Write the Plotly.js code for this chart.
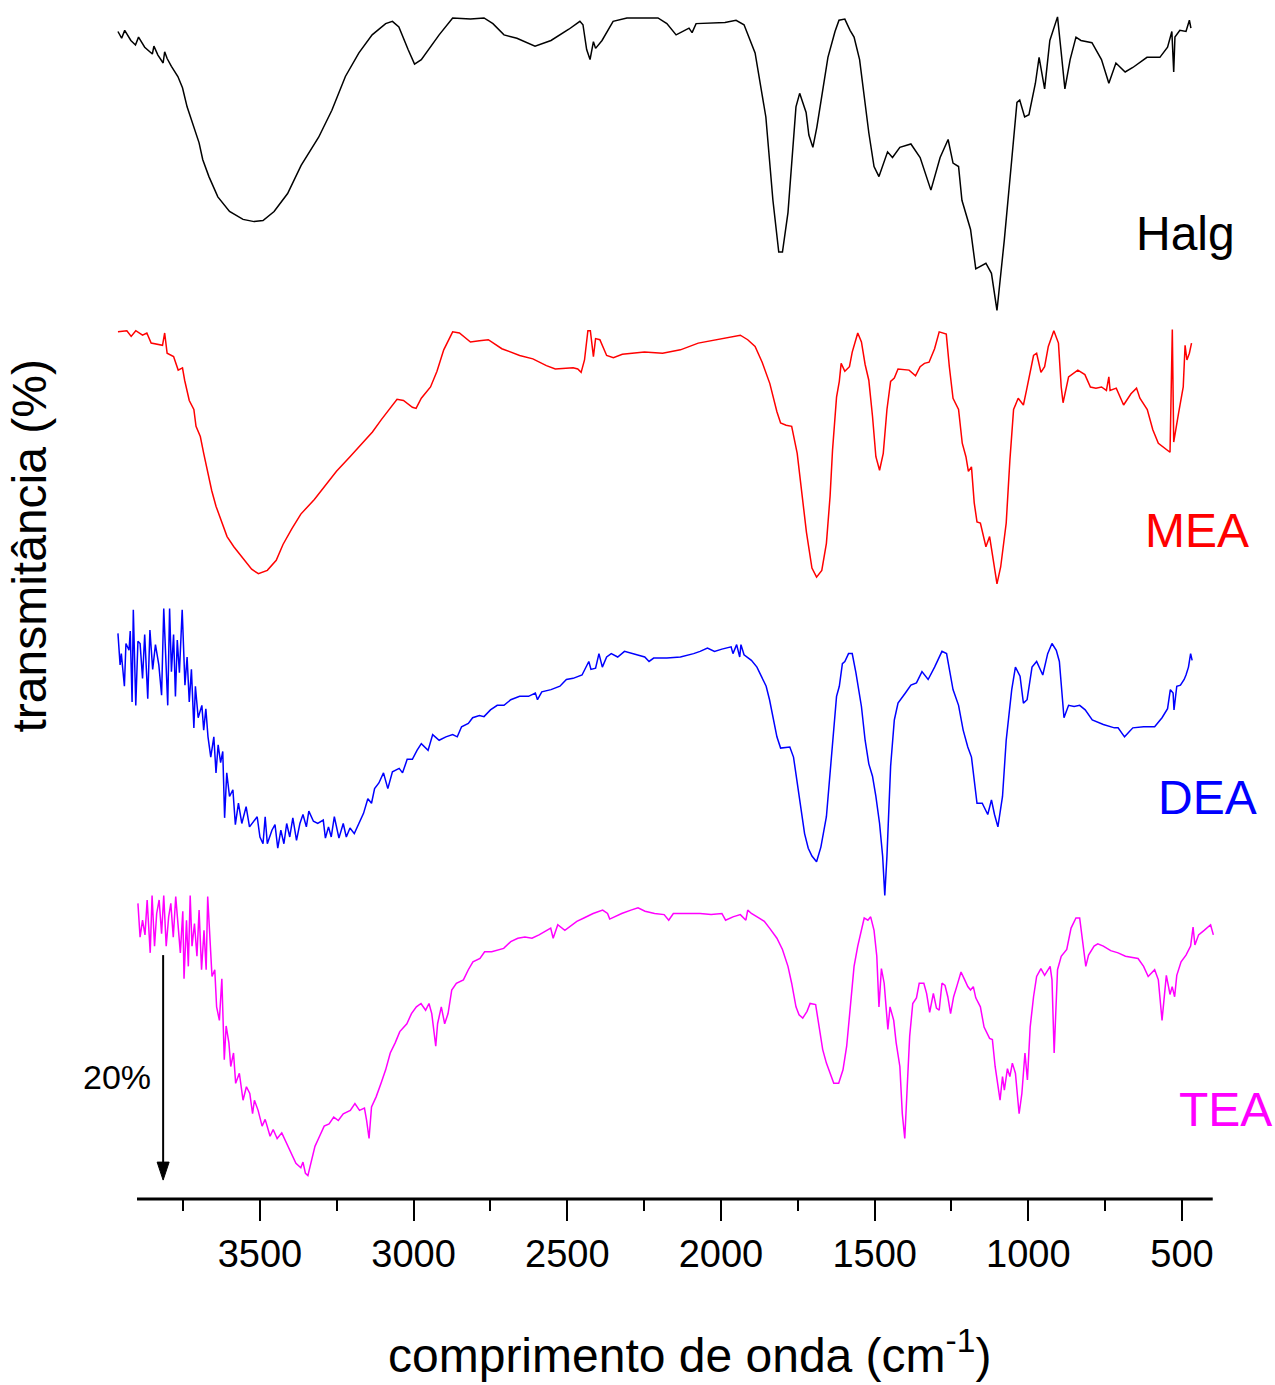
<!DOCTYPE html>
<html>
<head>
<meta charset="utf-8">
<script src="https://cdn.plot.ly/plotly-3.0.1.min.js"></script>
<style>html,body{margin:0;padding:0;background:#fff;}#chart{width:1275px;height:1385px;}</style>
</head>
<body>
<div id="chart"></div>
<script>
// ---- data: [wavenumber (cm-1), transmittance (%, stacked display value)] ----
const halg = [[3962,103.6],[3950,103.0],[3940,103.7],[3920,102.8],[3905,102.4],[3895,103.1],[3875,102.2],[3850,101.6],[3845,102.3],[3832,101.5],[3815,100.8],[3810,101.8],[3802,101.2],[3788,100.5],[3767,99.6],[3752,98.6],[3737,96.9],[3715,95.1],[3698,93.7],[3686,92.2],[3666,90.7],[3637,88.9],[3599,87.6],[3555,86.9],[3519,86.7],[3490,86.8],[3454,87.6],[3410,89.2],[3366,91.7],[3309,94.2],[3266,96.6],[3222,99.6],[3178,101.7],[3135,103.3],[3091,104.3],[3069,104.5],[3048,104.0],[3018,102.0],[2997,100.7],[2975,101.1],[2917,103.3],[2873,104.8],[2815,104.7],[2771,104.8],[2742,104.3],[2706,103.3],[2664,103.0],[2605,102.3],[2553,102.8],[2495,103.8],[2459,104.5],[2449,104.2],[2437,102.0],[2426,101.1],[2415,102.7],[2408,102.1],[2387,102.8],[2351,104.5],[2306,104.8],[2205,104.8],[2176,104.3],[2146,103.3],[2104,103.9],[2094,103.5],[2081,104.3],[1987,104.4],[1951,104.6],[1925,104.2],[1889,101.7],[1854,96.0],[1831,88.6],[1812,84.0],[1800,84.0],[1782,87.5],[1756,96.9],[1744,98.1],[1723,96.4],[1714,94.4],[1701,93.3],[1688,95.1],[1652,101.3],[1629,103.6],[1616,104.6],[1597,104.7],[1580,103.7],[1567,103.1],[1549,101.1],[1519,94.6],[1502,91.6],[1486,90.7],[1458,92.9],[1442,92.4],[1418,93.3],[1382,93.6],[1352,92.4],[1317,89.5],[1287,92.4],[1261,94.0],[1245,91.9],[1227,91.6],[1216,88.6],[1188,86.0],[1171,82.5],[1138,83.0],[1120,82.1],[1102,78.8],[1078,85.1],[1054,92.2],[1037,97.3],[1028,97.5],[1012,96.0],[998,96.2],[977,99.0],[965,101.3],[947,98.5],[930,102.8],[905,104.9],[894,102.0],[881,98.5],[864,101.1],[845,103.1],[829,102.8],[793,102.6],[762,101.1],[738,99.0],[715,100.8],[685,100.0],[660,100.4],[614,101.3],[572,101.3],[547,102.2],[533,103.6],[527,100.0],[523,103.1],[507,103.7],[487,103.6],[476,104.6],[471,103.9]];

const mea = [[3962,76.9],[3933,77.0],[3919,76.5],[3904,77.0],[3882,76.6],[3868,76.8],[3854,75.9],[3817,75.7],[3810,76.8],[3802,75.0],[3781,74.7],[3766,73.5],[3752,73.7],[3745,72.6],[3730,70.8],[3715,70.0],[3708,68.5],[3694,67.6],[3683,66.1],[3672,64.6],[3657,62.8],[3643,61.4],[3628,60.2],[3607,58.7],[3585,57.8],[3555,56.8],[3527,55.8],[3505,55.4],[3476,55.7],[3447,56.6],[3425,58.0],[3396,59.4],[3367,60.7],[3323,62.0],[3294,63.0],[3251,64.5],[3207,65.8],[3163,67.1],[3134,68.0],[3105,69.1],[3076,70.1],[3054,70.9],[3033,70.8],[3004,70.2],[2992,70.1],[2975,71.0],[2945,72.0],[2924,73.4],[2902,75.3],[2873,76.9],[2851,76.8],[2815,76.0],[2786,76.1],[2757,76.2],[2713,75.4],[2655,74.8],[2612,74.5],[2568,73.9],[2539,73.6],[2481,73.7],[2466,73.6],[2455,73.3],[2444,74.4],[2433,77.0],[2425,77.0],[2415,74.7],[2408,76.3],[2394,76.2],[2372,74.8],[2350,74.6],[2321,74.9],[2249,75.1],[2190,75.0],[2132,75.3],[2074,75.9],[1997,76.3],[1937,76.6],[1913,76.2],[1889,75.6],[1866,74.2],[1841,72.3],[1818,69.8],[1806,68.8],[1788,68.6],[1770,68.5],[1752,66.1],[1734,61.7],[1722,59.1],[1704,55.9],[1689,55.1],[1672,55.7],[1657,58.1],[1645,62.3],[1637,66.4],[1624,71.1],[1615,72.5],[1609,74.1],[1597,73.4],[1582,73.8],[1573,75.1],[1555,76.8],[1543,76.0],[1531,74.0],[1519,72.6],[1507,69.4],[1496,65.8],[1484,64.6],[1472,66.1],[1460,70.0],[1448,72.5],[1436,72.8],[1424,73.6],[1388,73.5],[1367,73.0],[1352,73.8],[1338,74.1],[1323,74.2],[1305,75.4],[1290,76.9],[1267,76.7],[1257,73.8],[1245,71.0],[1227,70.0],[1215,67.0],[1203,65.8],[1195,64.5],[1185,64.9],[1176,61.7],[1167,60.0],[1156,59.9],[1138,57.8],[1126,58.7],[1114,56.6],[1102,54.5],[1090,56.0],[1072,59.9],[1060,65.5],[1048,70.0],[1033,71.0],[1016,70.4],[1006,71.7],[997,72.9],[983,74.8],[973,75.0],[959,73.3],[947,73.8],[935,75.6],[917,77.0],[902,75.9],[893,72.0],[887,70.6],[869,72.9],[839,73.5],[816,73.1],[798,72.0],[780,71.9],[762,72.0],[746,71.7],[738,72.9],[734,71.7],[714,71.9],[690,70.4],[666,71.4],[648,71.9],[637,71.0],[613,70.0],[595,68.2],[577,67.0],[559,66.6],[539,66.2],[531.5,77.1],[527,67.1],[511,69.7],[496,72.0],[490,75.7],[484,74.4],[476,75.0],[469,75.9]];

const dea = [[3962,50.1],[3955,47.3],[3951,48.3],[3941,45.4],[3936,49.2],[3926,48.6],[3922,50.3],[3916,44.0],[3912,52.2],[3904,43.7],[3897,49.4],[3890,49.2],[3882,46.1],[3875,50.0],[3865,44.3],[3858,50.4],[3849,46.9],[3840,49.1],[3829,47.3],[3820,44.6],[3813,52.3],[3800,43.7],[3794,52.3],[3788,46.7],[3781,50.0],[3775,44.5],[3769,49.5],[3762,46.6],[3753,52.2],[3744,45.5],[3737,48.0],[3730,44.0],[3723,46.9],[3715,41.7],[3710,45.4],[3701,42.6],[3689,43.7],[3683,41.5],[3676,43.4],[3669,40.9],[3660,39.1],[3650,40.9],[3643,37.7],[3636,40.2],[3628,38.6],[3621,39.6],[3615,33.7],[3608,37.7],[3599,35.6],[3588,36.2],[3580,33.1],[3570,35.0],[3559,33.2],[3545,34.7],[3534,32.9],[3519,33.5],[3509,33.8],[3500,32.0],[3490,31.4],[3483,33.8],[3476,31.4],[3461,32.6],[3451,33.1],[3442,31.0],[3432,32.6],[3422,31.4],[3413,33.2],[3403,32.0],[3393,33.7],[3381,31.7],[3370,33.2],[3360,34.0],[3349,32.9],[3341,34.3],[3326,33.4],[3312,33.2],[3294,33.5],[3287,31.9],[3277,32.9],[3268,32.0],[3258,33.8],[3243,31.9],[3229,33.2],[3219,32.0],[3207,32.8],[3193,32.3],[3178,33.2],[3163,34.1],[3149,35.4],[3137,35.0],[3127,36.3],[3113,36.8],[3098,37.7],[3084,36.3],[3069,37.8],[3047,38.1],[3036,37.7],[3021,38.9],[3004,38.9],[2989,39.7],[2975,40.3],[2953,39.7],[2938,41.1],[2917,40.6],[2895,40.9],[2873,41.1],[2858,40.9],[2844,41.8],[2822,42.1],[2808,42.6],[2786,42.8],[2771,42.7],[2750,43.3],[2728,43.7],[2706,43.7],[2684,44.2],[2655,44.5],[2626,44.5],[2604,44.8],[2597,44.2],[2583,44.9],[2553,45.1],[2524,45.4],[2503,46.0],[2481,46.1],[2452,46.4],[2430,47.6],[2423,46.9],[2408,47.0],[2397,48.3],[2386,47.1],[2372,48.0],[2357,48.3],[2336,48.0],[2314,48.5],[2277,48.2],[2248,48.0],[2234,47.6],[2219,47.9],[2176,47.9],[2132,48.0],[2089,48.3],[2068,48.5],[2044,48.8],[2021,48.5],[1997,48.7],[1967,48.9],[1961,48.3],[1949,49.1],[1939,48.0],[1935,49.1],[1925,48.2],[1901,47.7],[1883,47.1],[1865,46.1],[1853,45.4],[1842,44.2],[1830,42.4],[1818,40.9],[1806,39.9],[1776,40.0],[1764,39.1],[1752,36.8],[1740,34.7],[1728,32.3],[1716,31.0],[1704,30.3],[1689,29.8],[1675,31.1],[1657,33.8],[1645,38.0],[1633,42.1],[1624,44.5],[1615,45.4],[1605,47.4],[1597,47.6],[1585,48.3],[1573,48.3],[1561,46.6],[1543,43.6],[1531,40.6],[1519,38.5],[1507,37.4],[1496,35.6],[1484,33.2],[1474,30.3],[1467,26.8],[1460,30.3],[1448,38.3],[1436,42.4],[1424,43.9],[1400,44.8],[1382,45.5],[1364,45.7],[1346,46.7],[1326,46.0],[1305,47.1],[1281,48.5],[1266,48.3],[1245,45.1],[1227,43.7],[1212,41.5],[1197,40.0],[1185,39.1],[1176,36.8],[1167,35.0],[1150,35.0],[1140,34.4],[1132,34.0],[1120,35.3],[1110,34.0],[1099,32.9],[1084,35.6],[1072,40.6],[1054,45.1],[1042,47.1],[1027,46.3],[1016,43.9],[1004,44.2],[988,47.1],[973,47.6],[953,46.4],[937,48.3],[923,49.2],[909,48.6],[899,47.6],[889,44.2],[884,42.6],[869,43.7],[851,43.6],[833,43.7],[815,43.3],[792,42.4],[756,42.0],[720,41.7],[708,41.7],[687,40.9],[660,41.7],[625,41.8],[589,41.8],[565,42.6],[547,43.4],[538,45.1],[529,44.8],[526,43.3],[517,45.4],[505,45.5],[493,46.0],[487,46.4],[479,47.1],[472,48.3],[467,47.7]];

const tea = [[3897,26.1],[3890,23.1],[3882,24.6],[3874,23.3],[3867,26.4],[3862,23.7],[3857,21.7],[3851,26.8],[3843,22.3],[3836,25.2],[3828,26.4],[3820,23.4],[3813,26.8],[3805,22.3],[3797,24.9],[3790,26.1],[3782,23.1],[3774,26.7],[3767,24.0],[3759,21.7],[3751,25.4],[3747,19.4],[3739,24.6],[3733,20.5],[3727,26.8],[3721,22.3],[3713,24.3],[3705,21.4],[3698,25.5],[3690,20.2],[3682,23.7],[3675,20.2],[3670,26.7],[3662,22.0],[3656,19.6],[3647,20.2],[3641,16.9],[3632,15.7],[3624,19.4],[3616,12.2],[3610,15.2],[3601,13.7],[3595,11.6],[3586,12.8],[3579,10.1],[3567,11.0],[3555,8.6],[3544,9.8],[3533,9.2],[3524,7.4],[3518,8.6],[3506,7.7],[3493,6.3],[3483,6.9],[3467,5.4],[3457,6.0],[3444,5.2],[3429,5.7],[3414,4.8],[3398,3.9],[3383,3.0],[3367,2.6],[3360,3.1],[3352,2.1],[3344,1.9],[3337,2.7],[3321,4.5],[3306,5.4],[3291,6.3],[3275,6.5],[3260,7.1],[3245,6.8],[3229,7.4],[3206,7.7],[3191,8.3],[3176,7.7],[3160,7.9],[3153,6.8],[3145,5.2],[3137,8.0],[3122,8.9],[3106,10.1],[3091,11.3],[3076,12.8],[3060,13.7],[3045,14.7],[3022,15.4],[3007,16.3],[2991,16.9],[2976,17.2],[2961,16.6],[2950,17.2],[2941,16.3],[2928,13.4],[2922,15.4],[2910,16.9],[2899,15.4],[2888,16.3],[2876,18.4],[2861,19.0],[2838,19.3],[2822,20.2],[2807,20.9],[2784,21.2],[2769,21.8],[2746,21.8],[2723,22.0],[2707,22.1],[2684,22.7],[2661,23.0],[2638,23.1],[2615,23.0],[2592,23.3],[2569,23.7],[2554,23.9],[2546,23.0],[2531,24.2],[2508,23.7],[2492,24.0],[2469,24.5],[2446,24.8],[2416,25.2],[2385,25.5],[2369,25.2],[2362,24.7],[2346,24.9],[2323,25.2],[2293,25.5],[2270,25.7],[2247,25.4],[2216,25.2],[2185,25.1],[2170,24.6],[2155,25.2],[2108,25.2],[2068,25.2],[2032,25.1],[1997,25.2],[1985,24.6],[1961,24.9],[1937,25.1],[1919,24.6],[1913,25.5],[1901,25.2],[1877,24.8],[1859,24.5],[1842,23.9],[1818,23.0],[1800,22.0],[1782,20.5],[1770,19.0],[1756,16.9],[1746,16.2],[1734,15.9],[1720,16.5],[1710,17.2],[1692,17.1],[1680,15.1],[1669,13.1],[1657,11.9],[1645,11.0],[1633,10.1],[1617,10.1],[1603,11.3],[1591,13.4],[1579,16.9],[1567,20.5],[1555,22.3],[1543,23.7],[1534,24.8],[1522,24.6],[1513,24.9],[1502,23.7],[1493,21.4],[1486,16.9],[1478,20.3],[1469,19.0],[1457,14.9],[1450,16.9],[1438,15.7],[1430,13.7],[1418,11.6],[1410,7.4],[1402,5.2],[1394,9.8],[1386,14.3],[1376,17.2],[1364,17.7],[1355,19.0],[1340,19.0],[1331,18.1],[1321,16.4],[1309,18.1],[1299,16.8],[1290,16.6],[1281,19.0],[1271,18.8],[1262,17.8],[1253,16.3],[1243,17.8],[1233,18.7],[1219,20.0],[1207,19.3],[1197,18.7],[1188,18.4],[1179,18.7],[1171,17.7],[1156,16.9],[1144,15.1],[1126,14.1],[1117,14.0],[1108,11.6],[1092,8.6],[1084,10.7],[1078,9.5],[1068,11.4],[1060,10.7],[1052,11.9],[1042,11.0],[1030,7.4],[1021,9.2],[1011,12.8],[1003,10.4],[994,15.1],[983,17.8],[973,19.6],[959,20.3],[947,19.7],[929,20.5],[923,19.3],[916,12.8],[905,20.2],[893,21.4],[875,22.0],[861,23.9],[845,24.8],[833,24.8],[821,22.3],[813,20.5],[804,21.5],[786,22.3],[774,22.5],[756,22.3],[732,21.9],[708,21.7],[684,21.4],[643,21.2],[625,20.5],[610,19.6],[589,20.2],[577,19.3],[565,15.7],[559,17.5],[551,19.7],[539,18.0],[532,18.7],[524,17.8],[517,19.7],[503,20.9],[487,21.5],[472,22.3],[464,24.0],[458,22.4],[446,23.3],[428,23.7],[416,24.0],[407,24.2],[398,23.3]];

const seriesNames = ["Halg", "MEA", "DEA", "TEA"];
const seriesData = [halg, mea, dea, tea];
const seriesColors = ["#000000", "#ff0000", "#0000ff", "#ff00ff"];
const scaleBar = {wavenumber: 3815, from: 21.5, to: 1.5, label: "20%"};
const xTickVals = [3500, 3000, 2500, 2000, 1500, 1000, 500];
const xMinorTickVals = [3750, 3250, 2750, 2250, 1750, 1250, 750];

// ---- layout geometry ----
const W = 1275, H = 1385, ML = 115, MR = 61, MT = 10, MB = 186;
const PW = W - ML - MR, PH = H - MT - MB;
const XR = [3971.6, 395.9], YR = [-0.18, 105.51];
const px = x => (x - ML) / PW;            // page pixel -> paper x
const py = y => (H - MB - y) / PH;        // page pixel -> paper y
const unitsPerPxX = (XR[0] - XR[1]) / PW;
const unitsPerPxY = (YR[1] - YR[0]) / PH;
const FONT = "Liberation Sans, Arial, Helvetica, sans-serif";

const traces = seriesData.map((d, i) => ({
  type: "scatter", mode: "lines", name: seriesNames[i],
  x: d.map(p => p[0]), y: d.map(p => p[1]),
  line: {color: seriesColors[i], width: 1.5}, hoverinfo: "skip"
}));

const labelPos = [[1185, 233.4], [1197, 530], [1207, 797.4], [1225, 1109.4]];
const annotations = seriesNames.map((n, i) => ({
  xref: "paper", yref: "paper", x: px(labelPos[i][0]), y: py(labelPos[i][1]),
  xanchor: "center", yanchor: "middle", showarrow: false, text: n,
  font: {family: FONT, size: 48, color: seriesColors[i]}
}));
annotations.push({
  xref: "paper", yref: "paper", x: px(117), y: py(1077), xanchor: "center", yanchor: "middle",
  showarrow: false, text: scaleBar.label, font: {family: FONT, size: 34, color: "#000"}
});
annotations.push({
  xref: "paper", yref: "paper", x: px(28.5), y: py(546), xanchor: "center", yanchor: "middle",
  showarrow: false, textangle: -90, text: "transmitância (%)", font: {family: FONT, size: 48, color: "#000"}
});
annotations.push({
  xref: "paper", yref: "paper", x: px(689), y: py(1352), xanchor: "center", yanchor: "middle",
  showarrow: false, text: "comprimento de onda (cm<sup>-1</sup>)", font: {family: FONT, size: 48, color: "#000"}
});

// scale-bar arrow (shaft + filled head), head ~18 px long, ~12 px wide
const headLen = 18 * unitsPerPxY, headHalf = 6 * unitsPerPxX;
const sb = scaleBar;
const shapes = [
  {type: "line", xref: "x", yref: "paper", x0: 3900, x1: 400, y0: 0, y1: 0, line: {color: "#000", width: 3}},
  {type: "line", xref: "x", yref: "y", x0: sb.wavenumber, x1: sb.wavenumber, y0: sb.from, y1: sb.to + headLen * 0.8, line: {color: "#000", width: 2}},
  {type: "path", xref: "x", yref: "y",
   path: `M ${sb.wavenumber} ${sb.to} L ${sb.wavenumber - headHalf} ${sb.to + headLen} L ${sb.wavenumber + headHalf} ${sb.to + headLen} Z`,
   fillcolor: "#000", line: {color: "#000", width: 1}}
];

const layout = {
  width: W, height: H,
  margin: {l: ML, r: MR, t: MT, b: MB, pad: 0},
  paper_bgcolor: "#fff", plot_bgcolor: "#fff",
  showlegend: false,
  xaxis: {
    range: XR, tickmode: "array", tickvals: xTickVals,
    ticks: "outside", ticklen: 21, tickwidth: 2, tickcolor: "#000",
    showline: false, showgrid: false, zeroline: false,
    tickfont: {family: FONT, size: 38, color: "#000"},
    minor: {tickmode: "array", tickvals: xMinorTickVals, ticks: "outside", ticklen: 11, tickwidth: 2, tickcolor: "#000", showgrid: false}
  },
  yaxis: {range: YR, visible: false, fixedrange: true},
  shapes: shapes,
  annotations: annotations
};

Plotly.newPlot("chart", traces, layout, {staticPlot: true, displayModeBar: false});
</script>
</body>
</html>
